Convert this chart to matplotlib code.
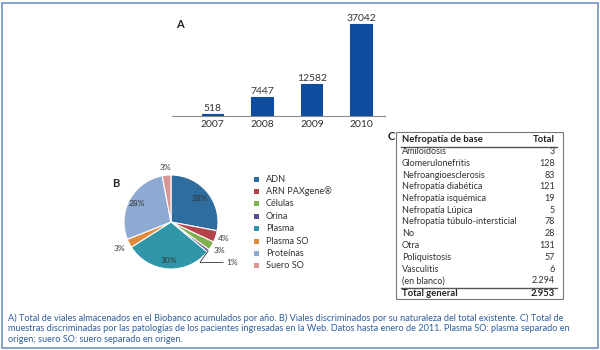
import matplotlib.pyplot as plt
from matplotlib.patches import Rectangle
from matplotlib.lines import Line2D
import numpy as np

plt.rcParams['font.family'] = ['Lato', 'DejaVu Sans']

# A) viales acumulados por año
years = ['2007', '2008', '2009', '2010']
viales = [518, 7447, 12582, 37042]

# B) viales por naturaleza (%)
tipos = ['ADN', 'ARN PAXgene\u00ae', 'Células', 'Orina', 'Plasma', 'Plasma SO', 'Proteínas', 'Suero SO']
porcentajes = [28, 4, 3, 1, 30, 3, 28, 3]
colores = ['#2f6d9e', '#b5434c', '#80b04e', '#5d4b8f', '#3097a9', '#e2893b', '#8eaad2', '#d99696']

# C) muestras por patología
patologias = ['Amiloidosis', 'Glomerulonefritis', 'Nefroangioesclerosis', 'Nefropatía diabética',
              'Nefropatía isquémica', 'Nefropatía Lúpica', 'Nefropatía túbulo-intersticial',
              'No', 'Otra', 'Poliquistosis', 'Vasculitis', '(en blanco)']
totales = [3, 128, 83, 121, 19, 5, 78, 28, 131, 57, 6, 2294]

caption = ['A) Total de viales almacenados en el Biobanco acumulados por año. B) Viales discriminados por su naturaleza del total existente. C) Total de',
           'muestras discriminadas por las patologías de los pacientes ingresadas en la Web. Datos hasta enero de 2011. Plasma SO: plasma separado en',
           'origen; suero SO: suero separado en origen.']

W, H = 600, 350
fig = plt.figure(figsize=(6, 3.5), dpi=100)

def fx(x):
    return x / W

def fy(y):
    return 1 - y / H

def box(l, t, r, b):
    return [fx(l), fy(b), (r - l) / W, (b - t) / H]

def fmt(v):
    return f'{v:,}'.replace(',', '.')

# border
fig.add_artist(Rectangle((fx(1.5), fy(347.5)), (W - 4) / W, 345 / H, transform=fig.transFigure,
                         fill=False, ec='#7d9bc8', lw=1.3))

### A: barras ###
ax1 = fig.add_axes(box(172, 20, 385, 116))
x = np.arange(len(years))
ax1.bar(x, viales, width=0.41, color='#0d4c9f', edgecolor='#0d4c9f', lw=1.5)
for i, v in enumerate(viales):
    ax1.text(i, v + 800, str(v), ha='center', va='bottom', fontsize=7.5, color='#333333')
ax1.set_xlim(-0.82, 3.47)
ax1.set_ylim(0, 37042 * 96 / 91)
ax1.set_xticks(x)
ax1.set_xticklabels(years, fontsize=7.5, color='#333333')
ax1.tick_params(axis='x', length=0, pad=3)
ax1.set_yticks([])
for s in ['top', 'right', 'left']:
    ax1.spines[s].set_visible(False)
ax1.spines['bottom'].set_color('#8a8a8a')
fig.text(fx(176), fy(24), 'A', fontsize=8, fontweight='bold', va='center', color='#222222')

### B: tarta ###
cx, cy, r = 171, 222, 47
ax2 = fig.add_axes(box(cx - r, cy - r, cx + r, cy + r))
wedges, _ = ax2.pie(porcentajes, colors=colores, startangle=90, counterclock=False,
                    wedgeprops=dict(edgecolor='white', linewidth=0.8))
ax2.set_xlim(-1, 1)
ax2.set_ylim(-1, 1)
ax2.set_aspect('equal')
dist = [0.8, 1.17, 1.2, 1.47, 0.83, 1.22, 0.82, 1.17]
for w, p, d in zip(wedges, porcentajes, dist):
    ang = np.deg2rad((w.theta1 + w.theta2) / 2)
    if p == 1:
        ax2.annotate(f'{p}%', xy=(np.cos(ang), np.sin(ang)), xytext=(1.17, -0.86),
                     fontsize=6, color='#333333', va='center', ha='left',
                     arrowprops=dict(arrowstyle='-', color='#333333', lw=0.6, shrinkA=0, shrinkB=0,
                                     connectionstyle='angle,angleA=0,angleB=55,rad=0'))
    else:
        ax2.text(d * np.cos(ang), d * np.sin(ang), f'{p}%', fontsize=6,
                 ha='center', va='center', color='#333333')
fig.text(fx(112), fy(183), 'B', fontsize=8, fontweight='bold', va='center', color='#222222')

for i, (t, c) in enumerate(zip(tipos, colores)):
    yy = 179 + i * 12.4
    fig.add_artist(Rectangle((fx(254), fy(yy + 2.5)), 5 / W, 5 / H, transform=fig.transFigure,
                             color=c, lw=0))
    fig.text(fx(266), fy(yy), t, fontsize=6.6, va='center', color='#333333')

### C: tabla ###
fig.add_artist(Rectangle((fx(396), fy(299)), 167 / W, 167 / H, transform=fig.transFigure,
                         fill=False, ec='#777777', lw=0.8))
fig.text(fx(388), fy(136), 'C', fontsize=8, fontweight='bold', va='center', color='#222222')
fig.text(fx(402), fy(140), 'Nefropatía de base', fontsize=6.8, fontweight='bold', va='center', color='#222222')
fig.text(fx(555), fy(140), 'Total', fontsize=6.8, fontweight='bold', va='center', ha='right', color='#222222')
fig.add_artist(Line2D([fx(401), fx(557)], [fy(147), fy(147)], transform=fig.transFigure, color='#555555', lw=1))
for i, (p, t) in enumerate(zip(patologias, totales)):
    yy = 151.5 + i * 11.75
    fig.text(fx(402), fy(yy), p, fontsize=6.5, va='center', color='#333333')
    fig.text(fx(555), fy(yy), fmt(t), fontsize=6.5, va='center', ha='right', color='#333333')
fig.add_artist(Line2D([fx(401), fx(557)], [fy(287.5), fy(287.5)], transform=fig.transFigure, color='#555555', lw=1))
fig.text(fx(402), fy(294), 'Total general', fontsize=6.8, fontweight='bold', va='center', color='#222222')
fig.text(fx(555), fy(294), fmt(sum(totales)), fontsize=6.8, fontweight='bold', va='center', ha='right', color='#222222')

### pie de figura ###
for i, line in enumerate(caption):
    fig.text(fx(8), fy(318 + i * 10.7), line, fontsize=6.6, va='center', color='#2f5e9e')

fig.savefig('out.png', dpi=100)
